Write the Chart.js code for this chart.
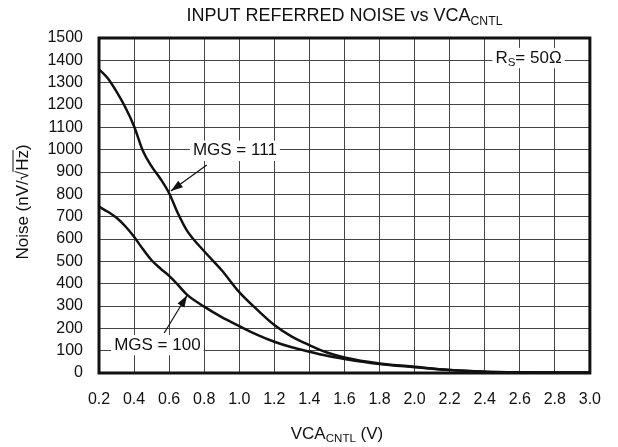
<!DOCTYPE html>
<html>
<head>
<meta charset="utf-8">
<script src="https://cdn.jsdelivr.net/npm/chart.js@4.4.0/dist/chart.umd.min.js"></script>
<style>
  html, body { margin: 0; padding: 0; background: #fff; }
  #wrap { width: 618px; height: 447px; }
</style>
</head>
<body>
<div id="wrap"><canvas id="noise" width="618" height="447"></canvas></div>
<script>
// data
const vcaVolts = [0.2, 0.25, 0.3, 0.35, 0.4, 0.45, 0.5, 0.55, 0.6, 0.65, 0.7, 0.8, 0.9, 1.0, 1.1, 1.2, 1.3, 1.4, 1.5, 1.6, 1.8, 2.0, 2.2, 2.4, 2.6, 2.8, 3.0];
const noiseMgs111 = [1360, 1320, 1260, 1190, 1105, 995, 925, 870, 805, 715, 640, 545, 460, 362, 285, 215, 163, 125, 92, 70, 43, 28, 14, 6, 3, 2, 2];
const noiseMgs100 = [745, 722, 695, 657, 610, 555, 505, 468, 435, 395, 352, 297, 250, 210, 172, 140, 115, 95, 77, 63, 40, 26, 13, 6, 3, 2, 2];
const seriesNames = ["MGS = 111", "MGS = 100"];

const FONT = "'Liberation Sans', Arial, sans-serif";

function pts(ys) {
  return vcaVolts.map((x, i) => ({ x: x, y: ys[i] }));
}

// text with a subscript part
function subText(ctx, parts, x, y, size, align) {
  let w = 0;
  parts.forEach(p => {
    ctx.font = (p.sub ? size * 0.68 : size) + "px " + FONT;
    w += ctx.measureText(p.t).width;
  });
  let cx = align === "center" ? x - w / 2 : x;
  parts.forEach(p => {
    ctx.font = (p.sub ? size * 0.68 : size) + "px " + FONT;
    ctx.fillText(p.t, cx, p.sub ? y + size * 0.3 : y);
    cx += ctx.measureText(p.t).width;
  });
  return w;
}

function arrow(ctx, x1, y1, x2, y2) {
  ctx.beginPath();
  ctx.moveTo(x1, y1);
  ctx.lineTo(x2, y2);
  ctx.strokeStyle = "#111";
  ctx.lineWidth = 1.2;
  ctx.stroke();
  const a = Math.atan2(y2 - y1, x2 - x1);
  const len = 12, half = 4;
  ctx.beginPath();
  ctx.moveTo(x2, y2);
  ctx.lineTo(x2 - len * Math.cos(a) + half * Math.sin(a), y2 - len * Math.sin(a) - half * Math.cos(a));
  ctx.lineTo(x2 - len * Math.cos(a) - half * Math.sin(a), y2 - len * Math.sin(a) + half * Math.cos(a));
  ctx.closePath();
  ctx.fillStyle = "#111";
  ctx.fill();
}

function boxLabel(ctx, parts, x, y, size) {
  let w = 0;
  parts.forEach(p => {
    ctx.font = (p.sub ? size * 0.68 : size) + "px " + FONT;
    w += ctx.measureText(p.t).width;
  });
  ctx.fillStyle = "#fff";
  ctx.fillRect(x - w / 2 - 3, y - size * 0.6, w + 6, size * 1.2);
  ctx.fillStyle = "#111";
  ctx.textBaseline = "middle";
  subText(ctx, parts, x, y, size, "center");
}

const decor = {
  id: "decor",
  afterDatasetsDraw(chart) {
    const ctx = chart.ctx;
    const a = chart.chartArea;
    const xs = chart.scales.x, ys = chart.scales.y;
    ctx.save();

    // annotations
    arrow(ctx, xs.getPixelForValue(0.815), ys.getPixelForValue(931), xs.getPixelForValue(0.61), ys.getPixelForValue(815));
    arrow(ctx, xs.getPixelForValue(0.572), ys.getPixelForValue(179), xs.getPixelForValue(0.703), ys.getPixelForValue(348));
    boxLabel(ctx, [{ t: seriesNames[0] }], xs.getPixelForValue(0.975), ys.getPixelForValue(995), 17);
    boxLabel(ctx, [{ t: seriesNames[1] }], xs.getPixelForValue(0.533), ys.getPixelForValue(125), 17);
    boxLabel(ctx, [{ t: "R" }, { t: "S", sub: true }, { t: "= 50\u03A9" }], xs.getPixelForValue(2.65), ys.getPixelForValue(1410), 17);

    // frame
    ctx.strokeStyle = "#111";
    ctx.lineWidth = 3;
    ctx.strokeRect(a.left, a.top, a.right - a.left, a.bottom - a.top);

    // title
    ctx.fillStyle = "#111";
    ctx.textBaseline = "middle";
    const cx = (a.left + a.right) / 2;
    subText(ctx, [{ t: "INPUT REFERRED NOISE vs VCA" }, { t: "CNTL", sub: true }], cx, 16, 18, "center");

    // x axis title
    subText(ctx, [{ t: "VCA" }, { t: "CNTL", sub: true }, { t: " (V)" }], 337, 434, 17, "center");

    // y axis title, with overline on Hz
    ctx.translate(23, 202);
    ctx.rotate(-Math.PI / 2);
    ctx.font = "17px " + FONT;
    const t1 = "Noise (nV/\u221A", t2 = "Hz", t3 = ")";
    const w1 = ctx.measureText(t1).width, w2 = ctx.measureText(t2).width, w3 = ctx.measureText(t3).width;
    let px = -(w1 + w2 + w3) / 2;
    ctx.fillText(t1, px, 0);
    ctx.fillText(t2, px + w1, 0);
    ctx.fillText(t3, px + w1 + w2, 0);
    ctx.beginPath();
    ctx.moveTo(px + w1 - 1, -10);
    ctx.lineTo(px + w1 + w2, -10);
    ctx.lineWidth = 1;
    ctx.stroke();
    ctx.restore();
  }
};

new Chart(document.getElementById("noise").getContext("2d"), {
  type: "line",
  data: {
    datasets: [
      { label: seriesNames[0], data: pts(noiseMgs111) },
      { label: seriesNames[1], data: pts(noiseMgs100) }
    ]
  },
  options: {
    responsive: false,
    animation: false,
    layout: { padding: { top: 38, right: 22, left: 0, bottom: 0 } },
    elements: {
      line: { borderColor: "#111", borderWidth: 2.5, cubicInterpolationMode: "monotone", fill: false },
      point: { radius: 0 }
    },
    plugins: { legend: { display: false }, tooltip: { enabled: false } },
    scales: {
      x: {
        type: "linear",
        min: 0.2,
        max: 3.0,
        afterFit: s => { s.height = 74; },
        ticks: {
          stepSize: 0.2,
          padding: 17,
          color: "#111",
          font: { family: FONT, size: 16 },
          callback: v => v.toFixed(1)
        },
        grid: { color: "#444", lineWidth: 1, drawTicks: false },
        border: { display: false }
      },
      y: {
        min: 0,
        max: 1500,
        afterFit: s => { s.width = 99; },
        ticks: {
          stepSize: 100,
          padding: 16,
          color: "#111",
          font: { family: FONT, size: 16 },
          callback: v => String(v)
        },
        grid: { color: "#444", lineWidth: 1, drawTicks: false },
        border: { display: false }
      }
    }
  },
  plugins: [decor]
});
</script>
</body>
</html>
